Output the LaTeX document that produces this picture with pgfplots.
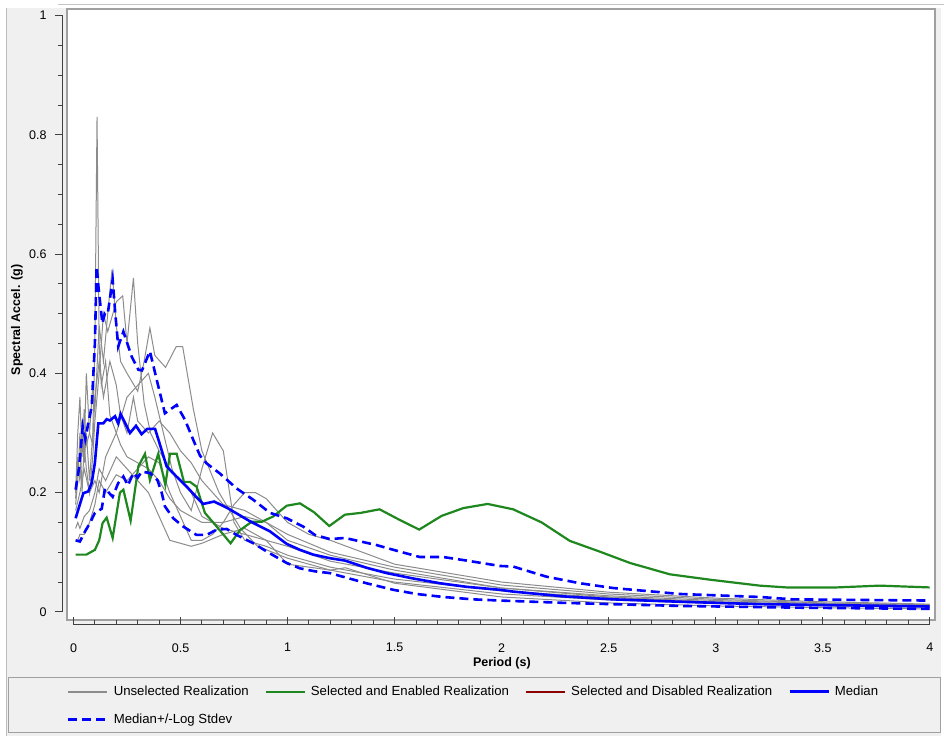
\documentclass[border=0pt]{standalone}
\usepackage{fontspec}
\setmainfont{Liberation Sans}
\usepackage{pgfplots}
\pgfplotsset{compat=1.18}

\definecolor{panelgray}{RGB}{240,240,240}
\definecolor{framegray}{RGB}{160,160,160}
\definecolor{realgray}{RGB}{140,140,140}
\definecolor{selgreen}{RGB}{30,135,30}
\definecolor{disred}{RGB}{140,0,0}
\definecolor{medblue}{RGB}{0,0,255}

\newcommand{\chartfont}{\fontsize{12.5}{15}\selectfont}
\newcommand{\legendfont}{\fontsize{13.2}{15}\selectfont}

\pgfplotsset{
  grayline/.style={realgray, line width=1pt, forget plot},
  dashblue/.style={medblue, line width=2.6pt, dash pattern=on 9pt off 5pt},
}

\begin{document}
\begin{tikzpicture}[x=1pt,y=1pt]
% window and panel
\fill[white] (0,0) rectangle (944,743);
\fill[panelgray] (6,7) rectangle (941,735);
\draw[framegray!60] (58,739) -- (944,739);
\draw[framegray!70] (6,7) -- (6,735);
% legend box
\draw[framegray, fill=panelgray] (8,11) rectangle (940,66);

% plot area with the data
\begin{axis}[
  at={(67pt,123pt)}, anchor=south west,
  scale only axis, width=868pt, height=611pt,
  xmin=-0.0304, xmax=4.024, ymin=-0.0134, ymax=1.011,
  xtick=\empty, ytick=\empty,
  axis background/.style={fill=white},
  axis line style={draw=framegray, line width=1.5pt},
  legend columns=4,
  legend cell align=left,
  legend style={draw=none, fill=none, font=\legendfont,
    at={(0.0,-0.105)}, anchor=north west,
    inner sep=0pt, row sep=13pt,
    /tikz/every odd column/.append style={column sep=3pt},
    /tikz/every even column/.append style={column sep=14pt}},
  legend image code/.code={\draw[#1] (0pt,0pt) -- (39pt,0pt);},
]
\addlegendimage{realgray, line width=2pt}
\addlegendentry{Unselected Realization}
\addlegendimage{selgreen, line width=2.2pt}
\addlegendentry{Selected and Enabled Realization}
\addlegendimage{disred, line width=2.2pt}
\addlegendentry{Selected and Disabled Realization}
\addlegendimage{medblue, line width=2.6pt}
\addlegendentry{Median}
\addlegendimage{dashblue}
\addlegendentry{Median+/-Log Stdev}

% unselected realizations
\addplot[grayline] coordinates {
  (0.01,0.19)(0.02,0.26)(0.03,0.22)(0.04,0.32)(0.05,0.25)(0.06,0.30)(0.075,0.22)
  (0.09,0.3)(0.1,0.45)(0.11,0.83)(0.12,0.45)(0.13,0.38)(0.15,0.42)(0.17,0.33)
  (0.2,0.30)(0.22,0.28)(0.25,0.26)(0.3,0.25)(0.35,0.24)(0.4,0.22)(0.45,0.19)
  (0.5,0.17)(0.6,0.15)(0.7,0.15)(0.8,0.16)(0.9,0.15)(1.0,0.12)(1.2,0.095)
  (1.5,0.07)(2,0.04)(2.5,0.025)(3,0.017)(3.5,0.012)(4,0.009)
};
\addplot[grayline] coordinates {
  (0.01,0.2)(0.02,0.3)(0.03,0.36)(0.04,0.26)(0.05,0.34)(0.06,0.28)(0.075,0.3)
  (0.09,0.38)(0.1,0.34)(0.12,0.48)(0.14,0.42)(0.16,0.5)(0.18,0.574)(0.2,0.48)
  (0.22,0.42)(0.25,0.4)(0.3,0.37)(0.33,0.42)(0.357,0.476)(0.38,0.43)(0.43,0.41)
  (0.48,0.445)(0.51,0.445)(0.56,0.34)(0.6,0.27)(0.68,0.2)(0.78,0.14)(0.86,0.11)
  (1.0,0.09)(1.2,0.07)(1.5,0.05)(2,0.03)(2.5,0.02)(3,0.014)(3.5,0.01)(4,0.008)
};
\addplot[grayline] coordinates {
  (0.01,0.18)(0.02,0.22)(0.03,0.3)(0.04,0.2)(0.05,0.28)(0.06,0.24)(0.075,0.2)
  (0.09,0.26)(0.1,0.32)(0.12,0.4)(0.14,0.5)(0.16,0.47)(0.2,0.52)(0.23,0.53)
  (0.25,0.45)(0.28,0.56)(0.3,0.45)(0.33,0.35)(0.36,0.3)(0.4,0.27)(0.45,0.24)
  (0.5,0.22)(0.55,0.2)(0.6,0.16)(0.65,0.15)(0.7,0.14)(0.8,0.13)(0.9,0.12)
  (1.0,0.11)(1.2,0.085)(1.5,0.065)(2,0.04)(2.5,0.027)(3,0.019)(3.5,0.014)(4,0.011)
};
\addplot[grayline] coordinates {
  (0.01,0.17)(0.03,0.2)(0.05,0.24)(0.075,0.2)(0.1,0.22)(0.12,0.2)(0.15,0.26)
  (0.2,0.3)(0.25,0.36)(0.3,0.38)(0.35,0.4)(0.38,0.36)(0.42,0.3)(0.46,0.24)
  (0.5,0.2)(0.55,0.17)(0.6,0.24)(0.65,0.3)(0.7,0.27)(0.75,0.15)(0.8,0.12)
  (0.9,0.11)(1.0,0.095)(1.2,0.075)(1.5,0.055)(2,0.035)(2.5,0.024)(3,0.016)
  (3.5,0.012)(4,0.009)
};
\addplot[grayline] coordinates {
  (0.01,0.12)(0.02,0.12)(0.03,0.13)(0.05,0.13)(0.075,0.15)(0.1,0.18)(0.12,0.22)
  (0.15,0.2)(0.2,0.23)(0.25,0.22)(0.3,0.24)(0.35,0.26)(0.4,0.25)(0.45,0.2)
  (0.5,0.16)(0.55,0.12)(0.6,0.12)(0.65,0.13)(0.7,0.15)(0.75,0.18)(0.8,0.2)
  (0.85,0.2)(0.9,0.19)(1.0,0.15)(1.1,0.13)(1.2,0.12)(1.5,0.08)(2,0.05)
  (2.5,0.033)(3,0.023)(3.5,0.017)(4,0.013)
};
\addplot[grayline] coordinates {
  (0.01,0.14)(0.02,0.15)(0.03,0.14)(0.05,0.16)(0.075,0.17)(0.1,0.2)(0.12,0.24)
  (0.15,0.22)(0.2,0.26)(0.25,0.24)(0.3,0.22)(0.35,0.2)(0.4,0.16)(0.45,0.12)
  (0.5,0.115)(0.55,0.11)(0.6,0.115)(0.7,0.13)(0.8,0.14)(0.9,0.12)(1.0,0.08)
  (1.1,0.075)(1.2,0.07)(1.27,0.074)(1.35,0.065)(1.5,0.048)(2,0.025)(2.5,0.015)
  (3,0.01)(3.5,0.007)(4,0.005)
};
\addplot[grayline] coordinates {
  (0.01,0.2)(0.02,0.24)(0.03,0.22)(0.04,0.3)(0.05,0.27)(0.06,0.4)(0.075,0.3)
  (0.09,0.28)(0.1,0.36)(0.12,0.42)(0.14,0.36)(0.17,0.42)(0.2,0.38)(0.22,0.33)
  (0.25,0.3)(0.28,0.36)(0.3,0.32)(0.35,0.3)(0.4,0.32)(0.45,0.3)(0.5,0.27)
  (0.55,0.25)(0.6,0.22)(0.7,0.18)(0.8,0.17)(0.9,0.15)(1.0,0.13)(1.2,0.1)
  (1.5,0.075)(2,0.045)(2.5,0.03)(3,0.021)(3.5,0.015)(4,0.012)
};

% selected and enabled realization
\addplot[selgreen, line width=2.2pt, forget plot] coordinates {
  (0.01,0.096)(0.06,0.096)(0.1,0.104)(0.12,0.12)(0.136,0.149)(0.155,0.158)
  (0.183,0.124)(0.217,0.2)(0.233,0.205)(0.267,0.153)(0.303,0.244)(0.334,0.265)
  (0.357,0.221)(0.396,0.265)(0.429,0.213)(0.451,0.265)(0.482,0.265)(0.516,0.218)
  (0.544,0.218)(0.575,0.21)(0.614,0.166)(0.669,0.143)(0.734,0.115)(0.778,0.137)
  (0.832,0.151)(0.879,0.151)(0.933,0.16)(0.996,0.178)(1.058,0.182)(1.124,0.167)
  (1.195,0.144)(1.268,0.163)(1.342,0.166)(1.43,0.172)(1.525,0.154)(1.615,0.138)
  (1.72,0.161)(1.821,0.174)(1.935,0.181)(2.054,0.172)(2.187,0.15)(2.319,0.119)
  (2.459,0.101)(2.6,0.082)(2.786,0.063)(2.973,0.054)(3.206,0.044)(3.331,0.041)
  (3.565,0.041)(3.767,0.044)(4.0,0.041)
};

% median
\addplot[medblue, line width=2.6pt, forget plot] coordinates {
  (0.01,0.157)(0.027,0.177)(0.046,0.199)(0.069,0.202)(0.085,0.216)(0.1,0.25)
  (0.116,0.316)(0.139,0.316)(0.155,0.323)(0.17,0.321)(0.194,0.328)(0.209,0.316)
  (0.22,0.332)(0.264,0.3)(0.292,0.312)(0.318,0.298)(0.345,0.307)(0.381,0.307)
  (0.401,0.284)(0.435,0.244)(0.478,0.228)(0.529,0.21)(0.575,0.192)(0.606,0.181)
  (0.657,0.185)(0.72,0.174)(0.824,0.152)(0.918,0.135)(0.996,0.114)(1.058,0.104)
  (1.12,0.096)(1.198,0.09)(1.268,0.086)(1.369,0.074)(1.463,0.065)(1.587,0.056)
  (1.712,0.048)(1.837,0.042)(1.992,0.037)(2.054,0.034)(2.288,0.026)(2.521,0.021)
  (2.833,0.017)(3.2,0.013)(3.6,0.011)(4.0,0.009)
};

% median + log stdev
\addplot[dashblue, forget plot] coordinates {
  (0.01,0.205)(0.027,0.244)(0.043,0.311)(0.055,0.29)(0.069,0.316)(0.085,0.344)
  (0.1,0.45)(0.108,0.579)(0.118,0.54)(0.135,0.484)(0.147,0.501)(0.16,0.5)
  (0.183,0.557)(0.194,0.506)(0.209,0.445)(0.233,0.47)(0.272,0.428)(0.303,0.406)
  (0.32,0.405)(0.357,0.437)(0.389,0.389)(0.427,0.333)(0.482,0.347)(0.521,0.322)
  (0.56,0.288)(0.591,0.262)(0.622,0.249)(0.684,0.232)(0.762,0.207)(0.84,0.188)
  (0.918,0.166)(0.996,0.157)(1.073,0.143)(1.128,0.129)(1.198,0.122)(1.268,0.124)
  (1.416,0.112)(1.525,0.101)(1.618,0.092)(1.727,0.092)(1.837,0.086)(1.992,0.077)
  (2.054,0.076)(2.21,0.059)(2.366,0.048)(2.521,0.04)(2.833,0.03)(3.206,0.025)
  (3.362,0.021)(4.0,0.019)
};
% median - log stdev
\addplot[dashblue, forget plot] coordinates {
  (0.01,0.12)(0.03,0.118)(0.054,0.135)(0.077,0.149)(0.1,0.166)(0.132,0.173)
  (0.147,0.207)(0.165,0.2)(0.183,0.193)(0.209,0.216)(0.233,0.227)(0.254,0.212)
  (0.28,0.233)(0.3,0.225)(0.318,0.235)(0.357,0.233)(0.392,0.221)(0.412,0.2)
  (0.427,0.177)(0.466,0.157)(0.513,0.143)(0.575,0.129)(0.622,0.129)(0.669,0.138)
  (0.716,0.139)(0.762,0.129)(0.84,0.115)(0.918,0.098)(0.996,0.082)(1.058,0.073)
  (1.128,0.068)(1.198,0.065)(1.268,0.058)(1.369,0.048)(1.494,0.037)(1.603,0.03)
  (1.727,0.025)(1.867,0.021)(1.992,0.019)(2.3,0.015)(2.83,0.01)(3.4,0.007)
  (4.0,0.005)
};
\end{axis}

% y axis, drawn apart from the plot area
\begin{axis}[
  at={(63pt,131pt)}, anchor=south west,
  scale only axis, width=4pt, height=596.3pt,
  xmin=0, xmax=1, ymin=0, ymax=1,
  axis y line*=left, axis x line=none,
  ytick={0,0.2,0.4,0.6,0.8,1}, minor y tick num=3,
  tick align=outside, major tick length=8pt, minor tick length=5pt,
  axis line style={black!75, line width=1pt},
  every tick/.style={black!75, line width=1pt},
  yticklabel style={font=\chartfont, text=black, xshift=-5pt},
  /pgf/number format/assume math mode=true,
]
\end{axis}

% x axis
\begin{axis}[
  at={(73.5pt,118pt)}, anchor=south west,
  scale only axis, width=856.5pt, height=4pt,
  xmin=0, xmax=4, ymin=0, ymax=1,
  axis x line*=bottom, axis y line=none,
  xtick={0,0.5,1,1.5,2,2.5,3,3.5,4}, minor x tick num=4,
  tick align=inside, major tick length=8pt, minor tick length=5pt,
  axis line style={black!75, line width=1pt},
  every tick/.style={black!75, line width=1pt},
  xticklabel style={font=\chartfont, text=black},
  xticklabel shift=15pt,
  /pgf/number format/assume math mode=true,
]
\end{axis}

\node[rotate=90, font=\bfseries\chartfont] at (17,423) {Spectral Accel. (g)};
\node[font=\bfseries\chartfont] at (502,80) {Period (s)};
\end{tikzpicture}
\end{document}
